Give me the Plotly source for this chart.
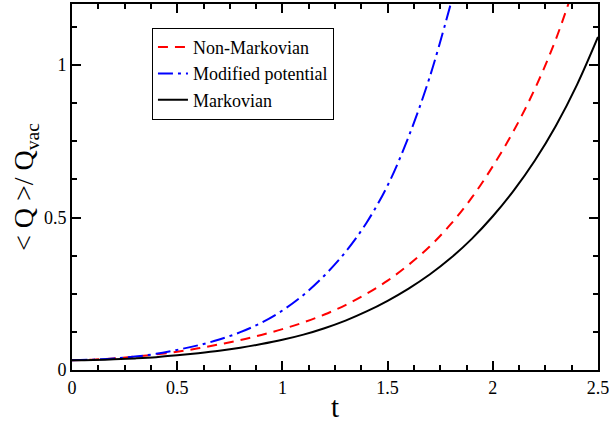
import plotly.graph_objects as go

t_markov = [0, 0.1, 0.2, 0.3, 0.4, 0.5, 0.6, 0.7, 0.8, 0.9, 1.0, 1.1, 1.2, 1.3, 1.4, 1.5,
            1.6, 1.7, 1.8, 1.9, 2.0, 2.1, 2.2, 2.3, 2.4, 2.5]
q_markov = [0.032, 0.033, 0.035, 0.038, 0.042, 0.048, 0.055, 0.063, 0.073, 0.085, 0.099,
            0.116, 0.137, 0.162, 0.192, 0.227, 0.267, 0.313, 0.367, 0.430, 0.504, 0.589,
            0.687, 0.801, 0.935, 1.092]

t_nonmarkov = [0, 0.1, 0.2, 0.3, 0.4, 0.5, 0.6, 0.7, 0.8, 0.9, 1.0, 1.1, 1.2, 1.3, 1.4, 1.5,
               1.6, 1.7, 1.8, 1.9, 2.0, 2.1, 2.2, 2.3, 2.4]
q_nonmarkov = [0.032, 0.034, 0.038, 0.044, 0.051, 0.060, 0.071, 0.084, 0.098, 0.115, 0.134,
               0.156, 0.182, 0.213, 0.250, 0.293, 0.345, 0.405, 0.478, 0.565, 0.668, 0.785,
               0.922, 1.085, 1.285]

t_modpot = [0, 0.1, 0.2, 0.3, 0.4, 0.5, 0.6, 0.7, 0.8, 0.9, 1.0, 1.1, 1.2, 1.3, 1.4, 1.5,
            1.6, 1.7, 1.8]
q_modpot = [0.032, 0.034, 0.038, 0.044, 0.053, 0.066, 0.081, 0.100, 0.124, 0.155, 0.195,
            0.246, 0.310, 0.387, 0.483, 0.605, 0.765, 0.960, 1.200]

x_ticks = [0, 0.5, 1, 1.5, 2, 2.5]
x_labels = ["0", "0.5", "1", "1.5", "2", "2.5"]
y_ticks = [0, 0.5, 1]
y_labels = ["0", "0.5", "1"]

FONT = "'Liberation Serif', 'Times New Roman', Times, serif"

fig = go.Figure()
fig.add_trace(go.Scatter(x=t_nonmarkov, y=q_nonmarkov, mode="lines", name="Non-Markovian",
                         line=dict(color="#ff0000", width=2, dash="10px,7px", shape="spline")))
fig.add_trace(go.Scatter(x=t_modpot, y=q_modpot, mode="lines", name="Modified potential",
                         line=dict(color="#0000ff", width=2, dash="15px,5px,3px,5px", shape="spline")))
fig.add_trace(go.Scatter(x=t_markov, y=q_markov, mode="lines", name="Markovian",
                         line=dict(color="#000000", width=2, shape="spline")))

axis_common = dict(showline=True, linecolor="black", linewidth=2, mirror="allticks",
                   ticks="inside", ticklen=9, tickwidth=2, tickcolor="black",
                   showgrid=False, zeroline=False, automargin=False,
                   ticklabeloverflow="allow",
                   tickfont=dict(family=FONT, size=18, color="black"))

fig.update_xaxes(range=[0, 2.5], tickvals=x_ticks, ticktext=x_labels,
                 title=dict(text="t", font=dict(family=FONT, size=29, color="black"), standoff=0),
                 minor=dict(dtick=0.125, ticks="inside", ticklen=5, tickwidth=1.5,
                            tickcolor="black", showgrid=False),
                 **axis_common)
fig.update_yaxes(range=[0, 1.2], tickvals=y_ticks, ticktext=y_labels,
                 title=dict(text="< Q >/ Q<sub>vac</sub>",
                            font=dict(family=FONT, size=28, color="black"), standoff=2),
                 minor=dict(dtick=0.125, ticks="inside", ticklen=5, tickwidth=1.5,
                            tickcolor="black", showgrid=False),
                 **axis_common)

fig.update_layout(
    width=609, height=424,
    margin=dict(l=72, r=11, t=4, b=54),
    plot_bgcolor="white", paper_bgcolor="white",
    font=dict(family=FONT, color="black"),
    legend=dict(x=0.152, y=0.935, xanchor="left", yanchor="top",
                bordercolor="black", borderwidth=1, bgcolor="white",
                font=dict(family=FONT, size=18, color="black"),
                itemwidth=30, tracegroupgap=0),
    showlegend=True,
)

fig.write_html("out.html", config={"displayModeBar": False},
               post_script="document.body.style.margin='0';document.body.style.padding='0';")
